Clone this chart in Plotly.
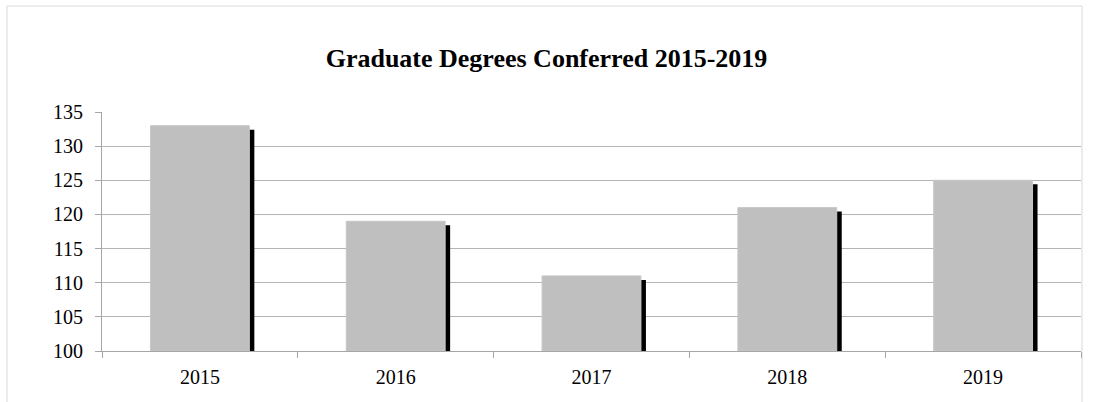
import plotly.graph_objects as go

years = ["2015", "2016", "2017", "2018", "2019"]
degrees = [133, 119, 111, 121, 125]

y_min, y_max = 100, 135
plot_h_px = 239
shadow_drop = 4 * (y_max - y_min) / plot_h_px
bar_w = 0.505
cat_px = 979 / 5
shadow_shift = 5 / cat_px

fig = go.Figure()
fig.add_trace(go.Bar(
    x=years, y=[v - shadow_drop - y_min for v in degrees], base=y_min,
    width=bar_w, offset=-bar_w / 2 + shadow_shift,
    marker=dict(color="#000000", line=dict(width=0)),
    hoverinfo="skip", showlegend=False,
))
fig.add_trace(go.Bar(
    x=years, y=[v - y_min for v in degrees], base=y_min,
    width=bar_w, offset=-bar_w / 2,
    marker=dict(color="#BFBFBF", line=dict(color="#C8C8C8", width=1)),
    showlegend=False,
))

fig.update_layout(
    width=1093, height=402,
    barmode="overlay",
    paper_bgcolor="white", plot_bgcolor="white",
    margin=dict(l=102, r=12, t=112, b=51),
    font=dict(family="Liberation Serif, Times New Roman, serif", size=20, color="#000000"),
    title=dict(text="<b>Graduate Degrees Conferred 2015-2019</b>",
               x=0.5, xanchor="center", y=1 - 58 / 402, yanchor="middle",
               font=dict(size=26, family="Liberation Serif, serif", color="#000000")),
    xaxis=dict(type="category", showline=True, linecolor="#A6A6A6", linewidth=1,
               ticks="outside", tickson="boundaries", ticklen=6, tickcolor="#A6A6A6",
               showgrid=False, tickfont=dict(size=20), ticklabelstandoff=8),
    yaxis=dict(range=[y_min, y_max], dtick=5, showline=True, linecolor="#A6A6A6",
               linewidth=1, ticks="outside", ticklen=6, tickcolor="#A6A6A6",
               showgrid=True, gridcolor="#B4B4B4", gridwidth=1, zeroline=False,
               tickfont=dict(size=20), ticklabelstandoff=8),
    shapes=[dict(type="rect", xref="paper", yref="paper",
                 x0=(7 - 102) / 979, x1=(1082 - 102) / 979,
                 y0=-0.5, y1=(351 - 6) / 239,
                 line=dict(color="#D9D9D9", width=1), fillcolor="rgba(0,0,0,0)",
                 layer="below")],
)

fig.write_html("out.html", config={"displayModeBar": False},
               post_script="document.body.style.margin='0';")
